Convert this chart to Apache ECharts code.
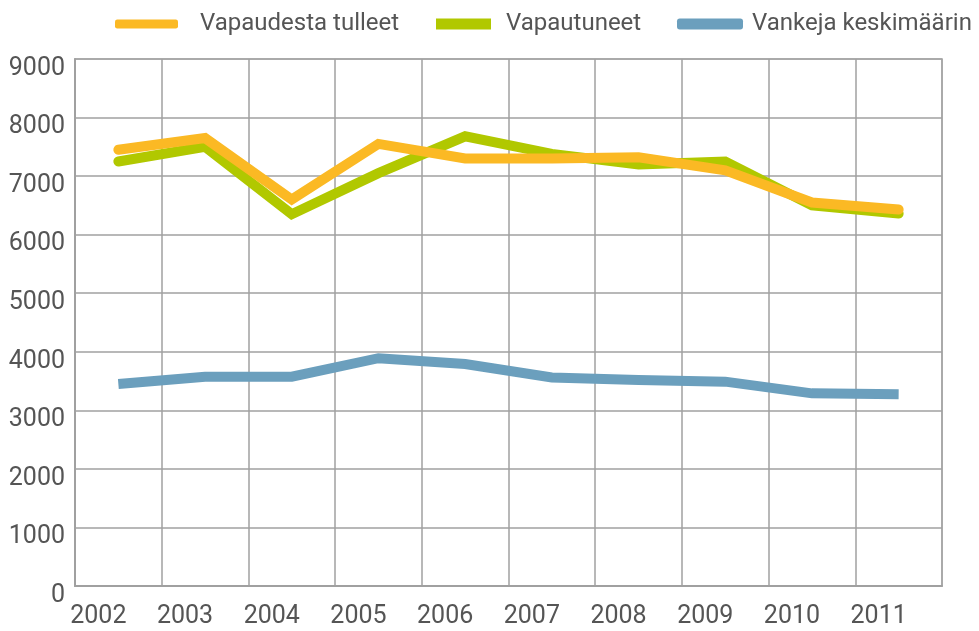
<!DOCTYPE html>
<html>
<head>
<meta charset="utf-8">
<script src="https://cdn.jsdelivr.net/npm/echarts@6/dist/echarts.min.js"></script>
<style>html,body{margin:0;padding:0;background:#fff}#c{width:979px;height:631px}</style>
</head>
<body>
<div id="c"></div>
<script>
var years = ['2002','2003','2004','2005','2006','2007','2008','2009','2010','2011'];
var yTicks = [0,1000,2000,3000,4000,5000,6000,7000,8000,9000];
var vapaudestaTulleet = [7450, 7650, 6600, 7550, 7300, 7300, 7320, 7100, 6550, 6430];
var vapautuneet = [7250, 7500, 6350, 7050, 7680, 7380, 7200, 7250, 6500, 6360];
var vankejaKeskimaarin = [3450, 3575, 3575, 3890, 3790, 3560, 3520, 3490, 3290, 3275];

var chart = echarts.init(document.getElementById('c'));
var font = 'Roboto';
var txt = '#555';
function legendFor(name, left, icon, w, h, gap) {
  return {
    data: [name], left: left, top: 7, icon: icon,
    itemWidth: w, itemHeight: h,
    textStyle: { fontFamily: font, fontSize: 24, color: txt, padding: [0,0,0,gap] }
  };
}
chart.setOption({
  animation: false,
  legend: [
    legendFor('Vapaudesta tulleet', 110, 'roundRect', 63, 9, 17),
    legendFor('Vapautuneet', 431, 'rect', 55, 11, 10),
    legendFor('Vankeja keskimäärin', 672, 'roundRect', 66, 11, 4)
  ],
  grid: { left: 75, right: 37, top: 59, bottom: 45, show: true, borderColor: '#c8c8c8', borderWidth: 2 },
  xAxis: {
    type: 'category', data: years, boundaryGap: true,
    axisLine: { lineStyle: { color: '#a0a0a0', width: 2 } },
    axisTick: { show: false },
    splitLine: { show: true, interval: 0, lineStyle: { color: '#a0a0a0', width: 1.5 } },
    axisLabel: { fontFamily: font, fontSize: 25, color: txt, margin: 18, padding: [0, 40, 0, 0], interval: 0 }
  },
  yAxis: {
    type: 'value', min: 0, max: 9000, interval: 1000,
    axisLine: { show: true, lineStyle: { color: '#a0a0a0', width: 2 } },
    axisTick: { show: false },
    splitLine: { lineStyle: { color: '#a0a0a0', width: 1.5 } },
    axisLabel: { fontFamily: font, fontSize: 25, color: txt, margin: 10, verticalAlign: 'top', padding: [-3,0,0,0],
      formatter: function (v) { return yTicks.indexOf(v) >= 0 ? String(v) : ''; } }
  },
  series: [
    { name: 'Vapaudesta tulleet', type: 'line', data: vapaudestaTulleet, symbol: 'none', z: 4,
      itemStyle: { color: '#fbb924' }, lineStyle: { color: '#fbb924', width: 10, cap: 'round', join: 'miter' } },
    { name: 'Vapautuneet', type: 'line', data: vapautuneet, symbol: 'none', z: 3,
      itemStyle: { color: '#b1c800' }, lineStyle: { color: '#b1c800', width: 10, cap: 'round', join: 'miter' } },
    { name: 'Vankeja keskimäärin', type: 'line', data: vankejaKeskimaarin, symbol: 'none', z: 3,
      itemStyle: { color: '#6b9fbd' }, lineStyle: { color: '#6b9fbd', width: 10, cap: 'butt', join: 'miter' } }
  ]
});
</script>
</body>
</html>
